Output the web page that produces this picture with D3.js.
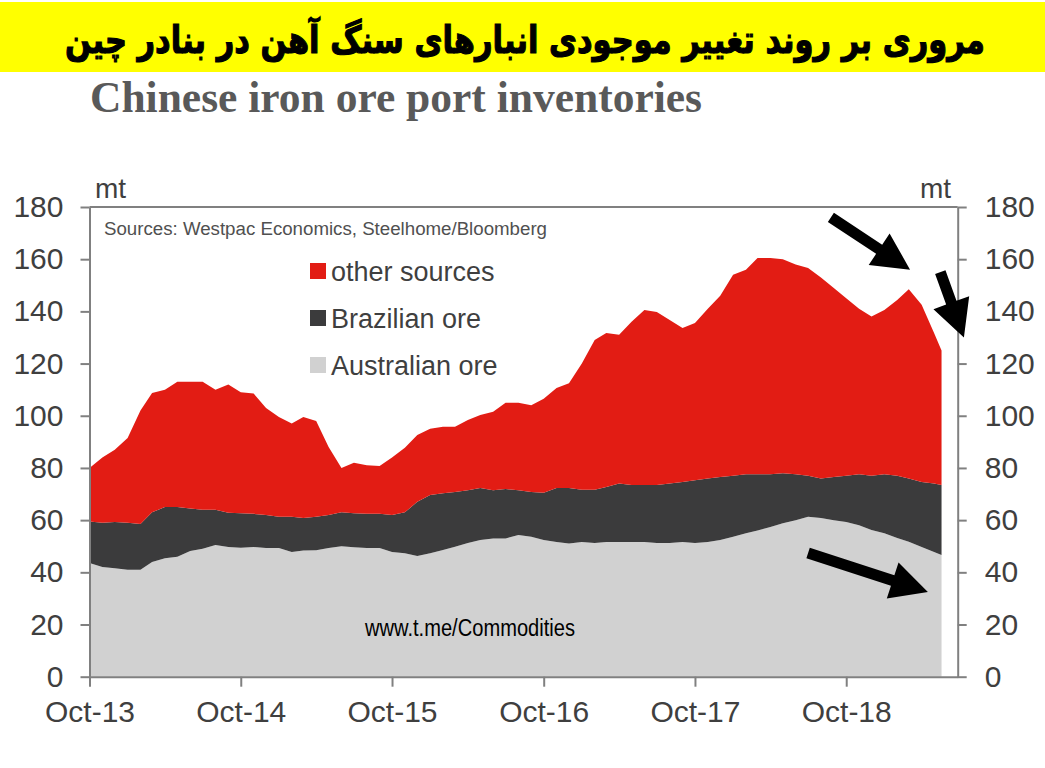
<!DOCTYPE html>
<html>
<head>
<meta charset="utf-8">
<script src="https://cdn.jsdelivr.net/npm/d3@7"></script>
<style>
  body { margin: 0; background: #fff; }
  svg { display: block; }
</style>
</head>
<body>
<svg id="chart" width="1045" height="768"></svg>
<script>
// months (1st of month) plus the last weekly reading
var dates = [
  "2013-10-01","2013-11-01","2013-12-01",
  "2014-01-01","2014-02-01","2014-03-01","2014-04-01","2014-05-01","2014-06-01","2014-07-01","2014-08-01","2014-09-01","2014-10-01","2014-11-01","2014-12-01",
  "2015-01-01","2015-02-01","2015-03-01","2015-04-01","2015-05-01","2015-06-01","2015-07-01","2015-08-01","2015-09-01","2015-10-01","2015-11-01","2015-12-01",
  "2016-01-01","2016-02-01","2016-03-01","2016-04-01","2016-05-01","2016-06-01","2016-07-01","2016-08-01","2016-09-01","2016-10-01","2016-11-01","2016-12-01",
  "2017-01-01","2017-02-01","2017-03-01","2017-04-01","2017-05-01","2017-06-01","2017-07-01","2017-08-01","2017-09-01","2017-10-01","2017-11-01","2017-12-01",
  "2018-01-01","2018-02-01","2018-03-01","2018-04-01","2018-05-01","2018-06-01","2018-07-01","2018-08-01","2018-09-01","2018-10-01","2018-11-01","2018-12-01",
  "2019-01-01","2019-02-01","2019-03-01","2019-04-01","2019-05-01","2019-05-19"
];

// mt
var australian = [43.6,42,41.6,41,41,44,45.4,46,48.2,49,
  50.5,49.7,49.4,49.7,49.3,49.3,47.8,48.4,48.5,49.3,
  50,49.6,49.3,49.3,47.8,47.3,46.3,47.3,48.6,49.8,
  51.2,52.4,53,53,54.3,53.6,52.4,51.6,51,51.6,
  51.2,51.6,51.6,51.6,51.6,51.2,51.2,51.6,51.2,51.6,
  52.4,53.6,55,56,57.4,58.8,60,61.3,60.8,60,
  59.3,58,56.2,55,53.2,51.7,49.7,47.8,46.6];

var brazilian = [15.9,17,17.7,18,17.5,19,19.6,19,16.3,15,
  13.5,13.1,13.2,12.7,12.7,12,13.5,12.4,12.8,12.7,
  13,13,13.1,13.1,14.2,15.7,20.7,22.3,21.7,21,
  20.3,19.9,18.5,18.9,17.2,17.2,18.1,20.7,21.3,20,
  20.4,21.1,22.4,21.9,21.9,22.3,22.8,23,24.1,24.4,
  24.1,23.4,22.6,21.6,20.2,19.2,17.6,15.7,15.2,16.5,
  17.7,19.6,20.8,22.6,23.8,24.3,24.9,26.2,26.9];

var other = [20.5,25,27.7,32.5,43.5,45.7,45,48,48.5,49,
  46,49.2,46.4,46.1,41,38.2,35.7,38.7,36.7,26,
  17,19.4,18.6,18.3,22,24.7,25.6,25.4,25.5,25,
  26.9,28,30,33.1,33.5,33.2,36,38.3,40.2,48.4,
  57.4,59,57,62.5,67,66.3,62.7,59,60.2,65,
  69.5,77,78.4,82.9,82.9,82,80.4,79.6,77,72.5,
  68,63.4,61,62.9,67.4,72.5,67.9,57.7,51.5];

var seriesKeys = ["australian", "brazilian", "other"];
var seriesColors = { australian: "#d1d1d1", brazilian: "#3b3b3c", other: "#e21c14" };
var legendLabels = [["other", "other sources"], ["brazilian", "Brazilian ore"], ["australian", "Australian ore"]];

var yTicks = [0, 20, 40, 60, 80, 100, 120, 140, 160, 180];
var xTicks = ["2013-10-01", "2014-10-01", "2015-10-01", "2016-10-01", "2017-10-01", "2018-10-01"];

// arrows drawn on the picture, in data units: [tail date, tail mt, tip date, tip mt]
var arrows = [
  ["2018-08-25", 176, "2019-03-04", 156],
  ["2019-05-16", 155, "2019-07-12", 130],
  ["2018-07-01", 47.4, "2019-04-16", 32.5]
];

var parse = d3.timeParse("%Y-%m-%d");
var rows = dates.map(function(d, i) {
  return { date: parse(d), australian: australian[i], brazilian: brazilian[i], other: other[i] };
});

var svg = d3.select("#chart");
var plotLeft = 89.5, plotRight = 957.7, plotTop = 207, plotBottom = 676.7;

var x = d3.scaleTime()
  .domain([parse("2013-10-01"), parse("2019-06-27")])
  .range([plotLeft, plotRight]);
var y = d3.scaleLinear().domain([0, 180]).range([plotBottom, plotTop]);

// banner
svg.append("rect")
  .attr("x", 0).attr("y", 2).attr("width", 1045).attr("height", 70)
  .attr("fill", "#ffff00");
svg.append("text")
  .attr("x", 525).attr("y", 53)
  .attr("text-anchor", "middle")
  .attr("direction", "rtl")
  .attr("font-family", "DejaVu Sans")
  .attr("font-weight", "bold")
  .attr("font-size", 38)
  .attr("textLength", 920)
  .attr("lengthAdjust", "spacingAndGlyphs")
  .attr("stroke", "#000")
  .attr("stroke-width", 1.2)
  .attr("fill", "#000")
  .text("مروری بر روند تغییر موجودی انبارهای سنگ آهن در بنادر چین");

svg.append("text")
  .attr("x", 90).attr("y", 112)
  .attr("font-family", "Liberation Serif")
  .attr("font-weight", "bold")
  .attr("font-size", 44)
  .attr("textLength", 612)
  .attr("lengthAdjust", "spacingAndGlyphs")
  .attr("fill", "#595959")
  .text("Chinese iron ore port inventories");

// stacked areas
var stack = d3.stack().keys(seriesKeys);
var layers = stack(rows);
var area = d3.area()
  .x(function(d) { return x(d.data.date); })
  .y0(function(d) { return y(d[0]); })
  .y1(function(d) { return y(d[1]); });

svg.append("g").selectAll("path")
  .data(layers)
  .enter()
  .append("path")
  .attr("d", area)
  .attr("fill", function(l) { return seriesColors[l.key]; });

// axes
var axisColor = "#808080";
function styleAxis(g) {
  g.selectAll("path, line").attr("stroke", axisColor).attr("stroke-width", 2);
  g.selectAll("text")
    .attr("font-family", "Liberation Sans, Arial, sans-serif")
    .attr("font-size", 30)
    .attr("fill", "#3f3f3f");
}

svg.append("g")
  .attr("transform", "translate(" + plotLeft + ",0)")
  .call(d3.axisLeft(y).tickValues(yTicks).tickSize(9).tickSizeOuter(0).tickPadding(17))
  .call(styleAxis);

svg.append("g")
  .attr("transform", "translate(" + plotRight + ",0)")
  .call(d3.axisRight(y).tickValues(yTicks).tickSize(9).tickSizeOuter(0).tickPadding(18))
  .call(styleAxis);

svg.append("g")
  .attr("transform", "translate(0," + plotBottom + ")")
  .call(d3.axisBottom(x).tickValues(xTicks.map(parse)).tickFormat(d3.timeFormat("%b-%y"))
    .tickSize(10).tickSizeOuter(0).tickPadding(14))
  .call(styleAxis);

// top frame line
svg.append("line")
  .attr("x1", plotLeft).attr("x2", plotRight)
  .attr("y1", plotTop).attr("y2", plotTop)
  .attr("stroke", axisColor).attr("stroke-width", 2);

// unit labels
svg.append("text").attr("x", 95).attr("y", 198).text("mt")
  .attr("font-family", "Liberation Sans, Arial, sans-serif").attr("font-size", 28).attr("fill", "#3f3f3f");
svg.append("text").attr("x", 951).attr("y", 198).attr("text-anchor", "end").text("mt")
  .attr("font-family", "Liberation Sans, Arial, sans-serif").attr("font-size", 28).attr("fill", "#3f3f3f");

// source note
svg.append("text")
  .attr("x", 104).attr("y", 235)
  .attr("font-family", "Liberation Sans, Arial, sans-serif")
  .attr("font-size", 18)
  .attr("textLength", 443)
  .attr("lengthAdjust", "spacingAndGlyphs")
  .attr("fill", "#505050")
  .text("Sources: Westpac Economics, Steelhome/Bloomberg");

// legend
var legend = svg.append("g").selectAll("g")
  .data(legendLabels)
  .enter()
  .append("g")
  .attr("transform", function(d, i) { return "translate(310," + (271 + i * 47) + ")"; });
legend.append("rect")
  .attr("x", 0).attr("y", -8).attr("width", 16).attr("height", 16)
  .attr("fill", function(d) { return seriesColors[d[0]]; });
legend.append("text")
  .attr("x", 21).attr("y", 10)
  .attr("font-family", "Liberation Sans, Arial, sans-serif")
  .attr("font-size", 27)
  .attr("fill", "#3f3f3f")
  .text(function(d) { return d[1]; });

// watermark
svg.append("text")
  .attr("x", 365).attr("y", 636)
  .attr("font-family", "Liberation Sans Narrow, Liberation Sans, Arial, sans-serif")
  .attr("font-size", 23)
  .attr("textLength", 210)
  .attr("lengthAdjust", "spacingAndGlyphs")
  .attr("fill", "#000")
  .text("www.t.me/Commodities");

// black arrows
function arrowPoints(a) {
  var x0 = x(parse(a[0])), y0 = y(a[1]), x1 = x(parse(a[2])), y1 = y(a[3]);
  var dx = x1 - x0, dy = y1 - y0, len = Math.sqrt(dx * dx + dy * dy);
  var ux = dx / len, uy = dy / len, nx = -uy, ny = ux;
  var shaft = 5.5, head = 19, headLen = 37;
  var bx = x1 - ux * headLen, by = y1 - uy * headLen;
  return [
    [x0 + nx * shaft, y0 + ny * shaft],
    [bx + nx * shaft, by + ny * shaft],
    [bx + nx * head, by + ny * head],
    [x1, y1],
    [bx - nx * head, by - ny * head],
    [bx - nx * shaft, by - ny * shaft],
    [x0 - nx * shaft, y0 - ny * shaft]
  ].map(function(p) { return p.join(","); }).join(" ");
}

svg.append("g").selectAll("polygon")
  .data(arrows)
  .enter()
  .append("polygon")
  .attr("points", arrowPoints)
  .attr("fill", "#000");
</script>
</body>
</html>
